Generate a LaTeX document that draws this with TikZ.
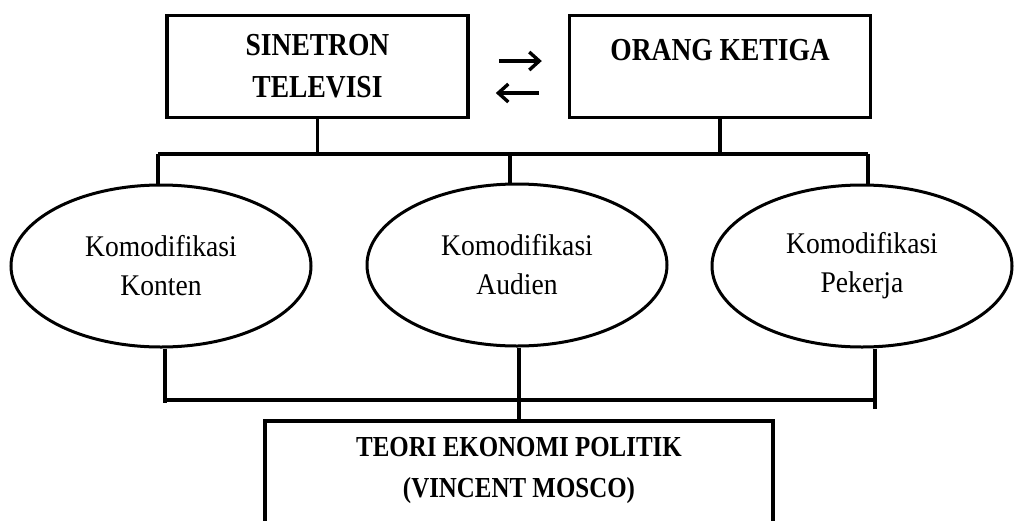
\documentclass[tikz,border=0pt]{standalone}
\usepackage{fontspec}
\setmainfont{Liberation Serif}
\newfontfamily\stencilfont[FakeStretch=0.86]{Liberation Serif}
\newfontfamily\ovalfont[FakeStretch=0.92]{Liberation Serif}
\usetikzlibrary{positioning,arrows.meta,shapes.geometric}

\begin{document}
\begin{tikzpicture}[x=1pt, y=-1pt,
  box/.style={draw, line width=3.6pt, minimum width=301pt, minimum height=102pt, inner sep=0pt},
  stencil/.style={font=\stencilfont\bfseries\fontsize{32}{42}\selectfont, align=center, inner sep=0pt},
  oval/.style={draw, ellipse, line width=3pt, minimum width=300pt, minimum height=162pt,
               inner sep=0pt, align=center, font=\ovalfont\fontsize{30}{39}\selectfont},
  conn/.style={line width=3.4pt},
  arr/.style={line width=3.4pt, -{Straight Barb[length=10pt, width=18pt]},
              shorten <=29pt, shorten >=26pt}]
  \useasboundingbox (0,0) rectangle (1015,520);
  \clip (0,0) rectangle (1015,520);
  % kotak atas
  \node[box, stencil] (sinetron) at (317.5,66.5) {SINETRON\\TELEVISI};
  \node[box, right=98pt of sinetron,
        label={[stencil, anchor=north, yshift=-25pt]north:ORANG\ KETIGA}] (ketiga) {};
  \draw[arr] ([yshift=5.5pt]sinetron.east) -- ([yshift=5.5pt]sinetron.east -| ketiga.west);
  \draw[arr] ([yshift=-26.5pt]sinetron.east -| ketiga.west) -- ([yshift=-26.5pt]sinetron.east);
  % komodifikasi
  \node[oval] (konten) at (161,266) {Komodifikasi\\Konten};
  \node[oval] (audien) at (517,265) {Komodifikasi\\Audien};
  \node[oval] (pekerja) at (862,266) {Komodifikasi\\Pekerja};
  % teori
  \node[box, minimum width=508pt, minimum height=160pt, anchor=north,
        label={[stencil, font=\stencilfont\bfseries\fontsize{29}{41}\selectfont,
                anchor=north, yshift=-18pt]north:TEORI EKONOMI POLITIK\\(VINCENT MOSCO)}]
        (teori) at (519,419) {};
  % garis
  \coordinate (atas) at (0,154);
  \coordinate (bawah) at (0,400);
  \draw[conn] ([xshift=-3pt]konten.north |- atas) -- ([xshift=6pt]pekerja.north |- atas);
  \draw[conn] (sinetron.south) -- (sinetron.south |- atas);
  \draw[conn] (ketiga.south) -- (ketiga.south |- atas);
  \draw[conn] ([xshift=-3pt]konten.north) -- ([xshift=-3pt]konten.north |- atas);
  \draw[conn] ([xshift=-7pt]audien.north) -- ([xshift=-7pt]audien.north |- atas);
  \draw[conn] ([xshift=6pt]pekerja.north) -- ([xshift=6pt]pekerja.north |- atas);
  \draw[conn] ([xshift=4pt]konten.south |- bawah) -- ([xshift=13pt]pekerja.south |- bawah);
  \draw[conn] ([xshift=4pt]konten.south) -- ([xshift=4pt,yshift=-3pt]konten.south |- bawah);
  \draw[conn] ([xshift=13pt]pekerja.south) -- ([xshift=13pt,yshift=-9pt]pekerja.south |- bawah);
  \draw[conn] (audien.south -| teori.north) -- (teori.north);
\end{tikzpicture}
\end{document}
